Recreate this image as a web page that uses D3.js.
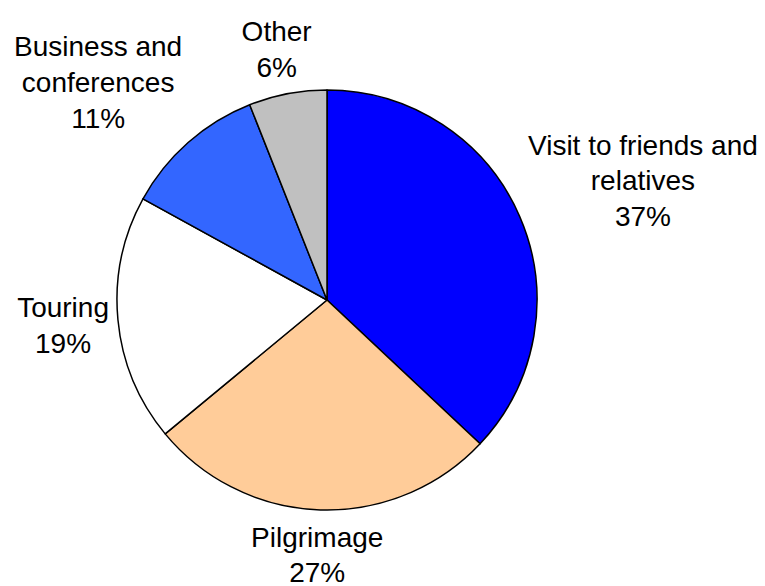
<!DOCTYPE html>
<html>
<head>
<meta charset="utf-8">
<script src="https://cdn.jsdelivr.net/npm/d3@7"></script>
<style>
  html, body { margin: 0; padding: 0; background: #fff; }
  svg { display: block; }
</style>
</head>
<body>
<svg id="chart" width="765" height="586"></svg>
<script>
const categories = ["Visit to friends and relatives", "Pilgrimage", "Touring", "Business and conferences", "Other"];
const values = [37, 27, 19, 11, 6];
const colors = ["#0000FF", "#FFCC99", "#FFFFFF", "#3366FF", "#C0C0C0"];

const W = 765, H = 586;
const cx = 327, cy = 300, R = 210;
const fontSize = 28, lineH = 35.8, gap = 9, wrapWidth = 245, k = 1.4;

const svg = d3.select("#chart");
const g = svg.append("g").attr("transform", `translate(${cx},${cy})`);

const data = categories.map((c, i) => ({ name: c, value: values[i], color: colors[i] }));
const pie = d3.pie().value(d => d.value).sort(null);
const arc = d3.arc().innerRadius(0).outerRadius(R);
const arcs = pie(data);

g.selectAll("path.slice").data(arcs).join("path")
  .attr("class", "slice")
  .attr("d", arc)
  .attr("fill", d => d.data.color)
  .attr("stroke", "#000")
  .attr("stroke-width", 1.5)
  .attr("stroke-linejoin", "round");

const total = d3.sum(values);
const fmt = v => Math.round(v / total * 100) + "%";
const clamp = v => Math.max(-1, Math.min(1, v));

arcs.forEach(d => {
  const t = g.append("text")
    .attr("font-family", "'Liberation Sans', Arial, sans-serif")
    .attr("font-size", fontSize)
    .attr("fill", "#000")
    .attr("text-anchor", "middle");
  const words = d.data.name.split(" ");
  const lines = [];
  let cur = "";
  const probe = t.append("tspan");
  words.forEach(w => {
    const test = cur ? cur + " " + w : w;
    probe.text(test);
    if (probe.node().getComputedTextLength() > wrapWidth && cur) {
      lines.push(cur); cur = w;
    } else cur = test;
  });
  lines.push(cur);
  probe.remove();
  lines.push(fmt(d.data.value));
  let maxW = 0;
  const spans = lines.map(l => {
    const s = t.append("tspan").text(l);
    maxW = Math.max(maxW, s.node().getComputedTextLength());
    return s;
  });
  const h = lines.length * lineH;
  const a = (d.startAngle + d.endAngle) / 2;
  const sx = Math.sin(a), sy = -Math.cos(a);
  const m = Math.max(Math.abs(sx), Math.abs(sy));
  const px = (R + gap) * sx, py = (R + gap) * sy;
  const bx = px + clamp(k * sx / m) * maxW / 2;
  const by = py + clamp(k * sy / m) * h / 2;
  const top = by - h / 2;
  spans.forEach((s, i) => {
    s.attr("x", bx).attr("y", top + lineH * i + lineH / 2 + fontSize * 0.35);
  });
});
</script>
</body>
</html>
